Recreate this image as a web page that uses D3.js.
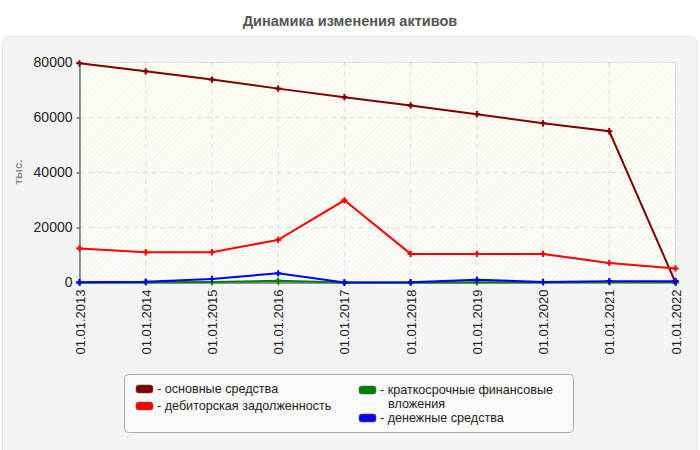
<!DOCTYPE html>
<html><head><meta charset="utf-8">
<script src="https://cdn.jsdelivr.net/npm/d3@7"></script>
<style>body{margin:0;background:#fff;font-family:"Liberation Sans",Arial,sans-serif}</style>
</head><body>
<svg id="c" width="700" height="450"></svg>
<script>
const categories = ["01.01.2013","01.01.2014","01.01.2015","01.01.2016","01.01.2017","01.01.2018","01.01.2019","01.01.2020","01.01.2021","01.01.2022"];
const fixedAssets   = [79700, 76800, 73800, 70500, 67400, 64400, 61200, 57900, 55000, 0];
const receivables   = [12400, 11000, 11000, 15500, 29900, 10400, 10400, 10400, 7100, 5100];
const shortInvest   = [0, 100, 200, 600, 0, 0, 100, 100, 200, 200];
const cash          = [100, 300, 1300, 3350, 0, 100, 1000, 200, 500, 500];
const seriesNames   = ["основные средства","дебиторская задолженность","краткосрочные финансовые вложения","денежные средства"];
const seriesColors  = ["#800000","#ff0000","#008000","#0000ff"];
const yTicks        = [0, 20000, 40000, 60000, 80000];

const svg = d3.select("#c");
const defs = svg.append("defs");
const grad = defs.append("linearGradient").attr("id","bg").attr("x1",0).attr("y1",0).attr("x2",0).attr("y2",1);
grad.append("stop").attr("offset","0%").attr("stop-color","#fdfdf3");
grad.append("stop").attr("offset","100%").attr("stop-color","#fbfbf9");
const pat = defs.append("pattern").attr("id","hatch").attr("width",4).attr("height",4)
  .attr("patternUnits","userSpaceOnUse").attr("patternTransform","rotate(45)");
pat.append("line").attr("x1",0).attr("y1",0).attr("x2",0).attr("y2",4).attr("stroke","#efefe8").attr("stroke-width",1);

// panel
svg.append("rect").attr("x",2.5).attr("y",36.5).attr("width",695).attr("height",430).attr("rx",8)
  .attr("fill","#f4f4f4").attr("stroke","#e4e4e4");

// title
svg.append("text").attr("x",350).attr("y",26).attr("text-anchor","middle")
  .attr("font-size",14.5).attr("font-weight","bold").attr("fill","#555").text("Динамика изменения активов");

const x = d3.scalePoint().domain(categories).range([79.5, 675.5]);
const y = d3.scaleLinear().domain([0, 80000]).range([282.5, 62.5]);

const pl = 79.5, pr = 675.5, pt = 62.5, pb = 282.5;
svg.append("rect").attr("x",pl).attr("y",pt).attr("width",pr-pl).attr("height",pb-pt).attr("fill","url(#bg)").attr("stroke","#dcdcdc");
svg.append("rect").attr("x",pl).attr("y",pt).attr("width",pr-pl).attr("height",pb-pt).attr("fill","url(#hatch)");

// grid
svg.append("g").selectAll("line").data(yTicks.slice(1,-1)).join("line")
  .attr("x1",pl).attr("x2",pr).attr("y1",d=>y(d)).attr("y2",d=>y(d))
  .attr("stroke","#dddddd").attr("stroke-dasharray","5,4");
svg.append("g").selectAll("line").data(categories.slice(1,-1)).join("line")
  .attr("x1",d=>x(d)).attr("x2",d=>x(d)).attr("y1",pt).attr("y2",pb)
  .attr("stroke","#dddddd").attr("stroke-dasharray","5,4");

// axes
const yAxis = d3.axisLeft(y).tickValues(yTicks).tickSize(3).tickPadding(4).tickFormat(d3.format("d"));
const gy = svg.append("g").attr("transform",`translate(${pl},0)`).call(yAxis);
gy.select(".domain").attr("stroke","#333");
gy.selectAll(".tick line").attr("stroke","#333");
gy.selectAll("text").attr("font-size",14).attr("fill","#222").attr("font-family","Liberation Sans, Arial, sans-serif");

const xAxis = d3.axisBottom(x).tickSize(3).tickPadding(4);
const gx = svg.append("g").attr("transform",`translate(0,${pb})`).call(xAxis);
gx.select(".domain").attr("stroke","#333");
gx.selectAll(".tick line").attr("stroke","#333");
gx.selectAll("text").attr("font-size",13).attr("fill","#222").attr("font-family","Liberation Sans, Arial, sans-serif")
  .attr("text-anchor","end").attr("dy","0.35em").attr("dx",0)
  .attr("transform","translate(0,4) rotate(-90)").attr("x",-3).attr("y",0);

// y label
svg.append("text").attr("transform","translate(22,172) rotate(-90)").attr("text-anchor","middle")
  .attr("font-size",11.5).attr("font-weight","bold").attr("fill","#888").text("тыс.");

// series
const allSeries = [fixedAssets, receivables, shortInvest, cash];
const line = d3.line().x((d,i)=>x(categories[i])).y(d=>y(d));
allSeries.forEach((vals,k)=>{
  const g = svg.append("g");
  g.append("path").attr("d",line(vals)).attr("fill","none").attr("stroke",seriesColors[k]).attr("stroke-width",2);
  g.selectAll("path.m").data(vals).join("path").attr("class","m")
    .attr("transform",(d,i)=>`translate(${x(categories[i])},${y(d)})`)
    .attr("d",d3.symbol(d3.symbolCross,22)).attr("fill",seriesColors[k]);
});

// legend
const lg = svg.append("g");
lg.append("rect").attr("x",124.5).attr("y",374.5).attr("width",449).attr("height",58).attr("rx",4)
  .attr("fill","#fafafa").attr("stroke","#aaaaaa");
const legendItems = [
  {k:0, x:136, y:389, lines:["- основные средства"]},
  {k:1, x:136, y:406, lines:["- дебиторская задолженность"]},
  {k:2, x:359, y:390, lines:["- краткосрочные финансовые","вложения"]},
  {k:3, x:359, y:418, lines:["- денежные средства"]}
];
legendItems.forEach(it=>{
  lg.append("rect").attr("x",it.x).attr("y",it.y-4).attr("width",17).attr("height",8).attr("rx",2.5)
    .attr("fill",seriesColors[it.k]).attr("stroke","#666").attr("stroke-width",0.6);
  it.lines.forEach((s,j)=>{
    lg.append("text").attr("x", j===0 ? it.x+21 : it.x+29).attr("y",it.y+4+j*13.5)
      .attr("font-size",12.6).attr("fill","#222").text(s);
  });
});
</script>
</body></html>
